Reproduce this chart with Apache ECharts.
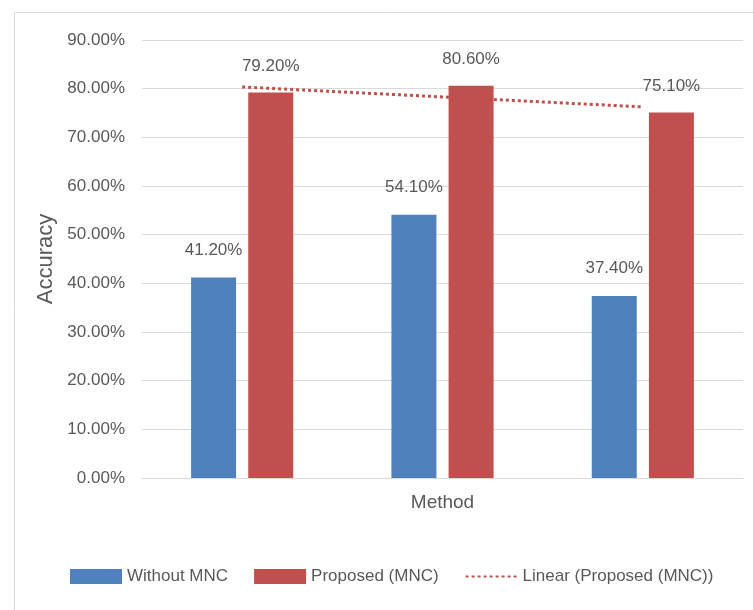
<!DOCTYPE html>
<html>
<head>
<meta charset="utf-8">
<title>Accuracy by Method</title>
<script src="https://cdn.jsdelivr.net/npm/echarts@6/dist/echarts.min.js"></script>
<style>
  html, body { margin: 0; padding: 0; background: #ffffff; }
  #chart { width: 753px; height: 610px; }
</style>
</head>
<body>
<div id="chart"></div>
<script>
// Accuracy (%) of each method, with and without MNC
var categories = ['1', '2', '3'];
var withoutMNC = [41.2, 54.1, 37.4];
var proposedMNC = [79.2, 80.6, 75.1];
var seriesNames = ['Without MNC', 'Proposed (MNC)', 'Linear (Proposed (MNC))'];
var yTicks = { min: 0, max: 90, interval: 10 };

// Least-squares linear trend of the proposed series over category index 1..n
function linearTrend(values) {
  var n = values.length, sx = 0, sy = 0, sxy = 0, sxx = 0;
  for (var i = 0; i < n; i++) {
    var x = i + 1;
    sx += x; sy += values[i]; sxy += x * values[i]; sxx += x * x;
  }
  var slope = (n * sxy - sx * sy) / (n * sxx - sx * sx);
  var intercept = (sy - slope * sx) / n;
  return values.map(function (_, i) { return intercept + slope * (i + 1); });
}
var proposedTrend = linearTrend(proposedMNC);

var FONT = '"Liberation Sans", Arial, sans-serif';
var TEXT = '#595959';
var BLUE = '#4F81BD';
var RED = '#C0504D';

function pct(v) { return v.toFixed(2) + '%'; }

var chart = echarts.init(document.getElementById('chart'), null, { renderer: 'canvas' });
chart.setOption({
  animation: false,
  backgroundColor: '#ffffff',
  graphic: [{
    type: 'rect',
    left: 12, top: 10,
    shape: { width: 800, height: 700 },
    style: { fill: 'none', stroke: '#d9d9d9', lineWidth: 1 },
    silent: true
  }],
  grid: { left: 142, right: 10, top: 40, bottom: 132 },
  legend: {
    left: 65, top: 563,
    itemWidth: 52, itemHeight: 15, itemGap: 26,
    textStyle: { fontFamily: FONT, fontSize: 17, color: TEXT },
    data: [
      { name: seriesNames[0], icon: 'rect' },
      { name: seriesNames[1], icon: 'rect' },
      // trend entry: dotted line only, no point marker
      { name: seriesNames[2], itemStyle: { opacity: 0 } }
    ]
  },
  xAxis: {
    type: 'category',
    data: categories,
    name: 'Method',
    nameLocation: 'middle',
    nameGap: 15,
    nameTextStyle: { fontFamily: FONT, fontSize: 19, color: TEXT },
    axisLine: { show: true, lineStyle: { color: '#d9d9d9', width: 1 } },
    axisTick: { show: false },
    axisLabel: { show: false }
  },
  yAxis: {
    type: 'value',
    min: yTicks.min, max: yTicks.max, interval: yTicks.interval,
    name: 'Accuracy',
    nameLocation: 'middle',
    nameGap: 82,
    nameTextStyle: { fontFamily: FONT, fontSize: 22, color: TEXT },
    axisLine: { show: false },
    axisTick: { show: false },
    axisLabel: {
      margin: 17,
      fontFamily: FONT, fontSize: 17, color: TEXT,
      formatter: pct
    },
    splitLine: { lineStyle: { color: '#d9d9d9', width: 1 } }
  },
  series: [
    {
      name: seriesNames[0],
      type: 'bar',
      data: withoutMNC,
      barWidth: 45,
      barGap: '27%',
      itemStyle: { color: BLUE },
      label: {
        show: true, position: 'top', distance: 19,
        fontFamily: FONT, fontSize: 17, color: TEXT,
        formatter: function (p) { return pct(p.value); }
      }
    },
    {
      name: seriesNames[1],
      type: 'bar',
      data: proposedMNC,
      barWidth: 45,
      itemStyle: { color: RED },
      label: {
        show: true, position: 'top', distance: 18,
        fontFamily: FONT, fontSize: 17, color: TEXT,
        formatter: function (p) { return pct(p.value); }
      }
    },
    {
      name: seriesNames[2],
      type: 'line',
      data: proposedTrend,
      symbol: 'none',
      z: 5,
      itemStyle: { color: RED },
      lineStyle: { color: RED, width: 3, type: [3, 3] }
    }
  ]
});
</script>
</body>
</html>
